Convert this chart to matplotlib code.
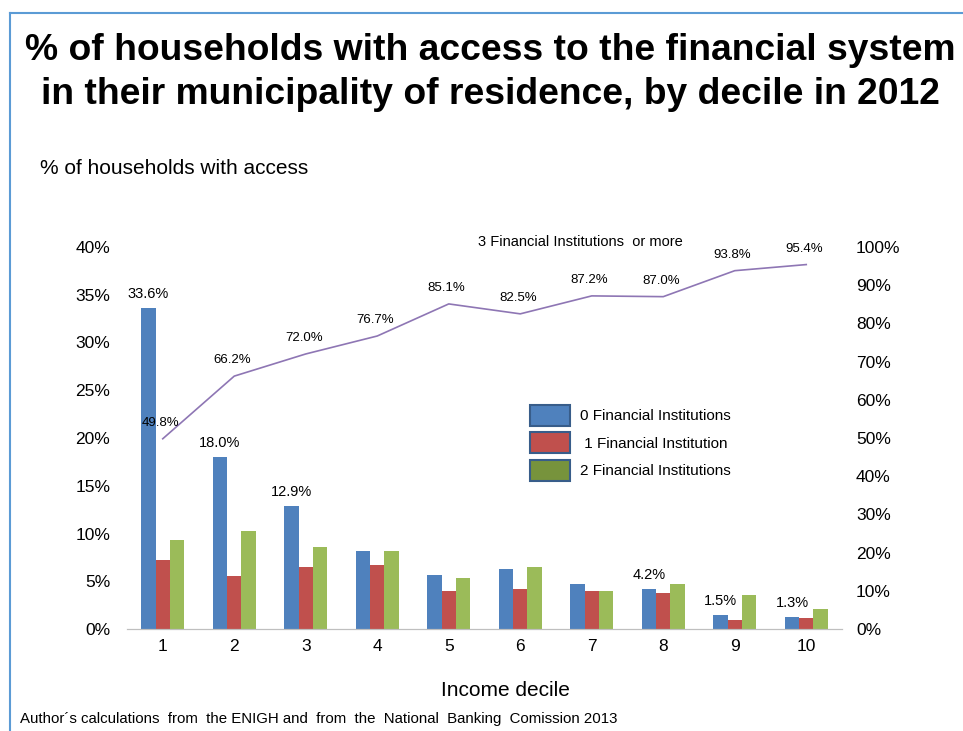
import numpy as np
import matplotlib
matplotlib.use('Agg')
import matplotlib.pyplot as plt
from matplotlib.patches import Patch
from matplotlib.lines import Line2D

plt.rcParams['font.family'] = ['Liberation Sans', 'DejaVu Sans']

# data
deciles = ['1', '2', '3', '4', '5', '6', '7', '8', '9', '10']
inst0 = [33.6, 18.0, 12.9, 8.2, 5.7, 6.3, 4.7, 4.2, 1.5, 1.3]
inst1 = [7.2, 5.5, 6.5, 6.7, 4.0, 4.2, 4.0, 3.8, 0.9, 1.1]
inst2 = [9.3, 10.3, 8.6, 8.2, 5.3, 6.5, 4.0, 4.7, 3.6, 2.1]
inst3 = [49.8, 66.2, 72.0, 76.7, 85.1, 82.5, 87.2, 87.0, 93.8, 95.4]
labelled0 = [0, 1, 2, 7, 8, 9]   # deciles whose blue bar carries a label

left_ticks = [0, 5, 10, 15, 20, 25, 30, 35, 40]
right_ticks = [0, 10, 20, 30, 40, 50, 60, 70, 80, 90, 100]

blue = '#4F81BD'
red = '#C0504D'
green = '#9BBB59'
purple = '#8E76B4'

fig = plt.figure(figsize=(9.63, 7.31), dpi=100)
W, H = 963, 731

# border lines of the chart area
fig.add_artist(Line2D([10 / W, 10 / W], [0, 1 - 13 / H], color='#5B9BD5', lw=1.5))
fig.add_artist(Line2D([10 / W, 1], [1 - 13 / H, 1 - 13 / H], color='#5B9BD5', lw=1.5))

ax = fig.add_axes([127 / W, 1 - 629 / H, (842 - 127) / W, (629 - 247) / H])
ax2 = ax.twinx()

x = np.arange(1, len(deciles) + 1)
bw = 0.2
ax.bar(x - bw, inst0, bw, color=blue)
ax.bar(x, inst1, bw, color=red)
ax.bar(x + bw, inst2, bw, color=green)

for i in labelled0:
    ax.annotate('%.1f%%' % inst0[i], (x[i] - bw, inst0[i]), xytext=(0, 5),
                textcoords='offset points', ha='center', va='bottom', fontsize=10.5)

ax2.plot(x, inst3, color=purple, lw=1.2)
for i in range(len(x)):
    ax2.annotate('%.1f%%' % inst3[i], (x[i], inst3[i]), xytext=(-1.5, 7),
                 textcoords='offset points', ha='center', va='bottom', fontsize=9.5)
ax2.text(6.84, 101.3, '3 Financial Institutions  or more', ha='center', va='center',
         fontsize=10.5)

ax.set_xlim(0.5, 10.5)
ax.set_ylim(0, 40)
ax2.set_ylim(0, 100)
ax.set_xticks(x)
ax.set_xticklabels(deciles, fontsize=12.5)
ax.set_yticks(left_ticks)
ax.set_yticklabels(['%d%%' % t for t in left_ticks], fontsize=12.5)
ax2.set_yticks(right_ticks)
ax2.set_yticklabels(['%d%%' % t for t in right_ticks], fontsize=12.5)

for a in (ax, ax2):
    for s in ('top', 'left', 'right'):
        a.spines[s].set_visible(False)
    a.spines['bottom'].set_color('#BFBFBF')
    a.tick_params(length=0)
ax.tick_params(axis='y', pad=12)
ax.tick_params(axis='x', pad=7)
ax2.tick_params(axis='y', pad=10)

handles = [Patch(facecolor=blue, edgecolor='#385D8A', lw=1.5),
           Patch(facecolor=red, edgecolor='#385D8A', lw=1.5),
           Patch(facecolor='#77933C', edgecolor='#385D8A', lw=1.5)]
ax.legend(handles, ['0 Financial Institutions', ' 1 Financial Institution',
                    '2 Financial Institutions'],
          loc='upper left', bbox_to_anchor=((530 - 127) / 715, (629 - 405) / 382),
          frameon=False, fontsize=11, handlelength=2.6, handleheight=1.7,
          labelspacing=0.45, handletextpad=0.65, borderaxespad=0, borderpad=0)

fig.text(490 / W, 1 - 50 / H, '% of households with access to the financial system',
         ha='center', va='center', fontsize=26.8, fontweight='bold')
fig.text(490 / W, 1 - 95 / H, 'in their municipality of residence, by decile in 2012',
         ha='center', va='center', fontsize=26.8, fontweight='bold')
fig.text(40 / W, 1 - 168 / H, '% of households with access', ha='left', va='center',
         fontsize=15)
fig.text(505 / W, 1 - 690 / H, 'Income decile', ha='center', va='center', fontsize=15)
fig.text(20 / W, 1 - 719 / H,
         'Author\u00b4s calculations  from  the ENIGH and  from  the  National  Banking  Comission 2013',
         ha='left', va='center', fontsize=10.8)

fig.savefig('out.png', dpi=100)
